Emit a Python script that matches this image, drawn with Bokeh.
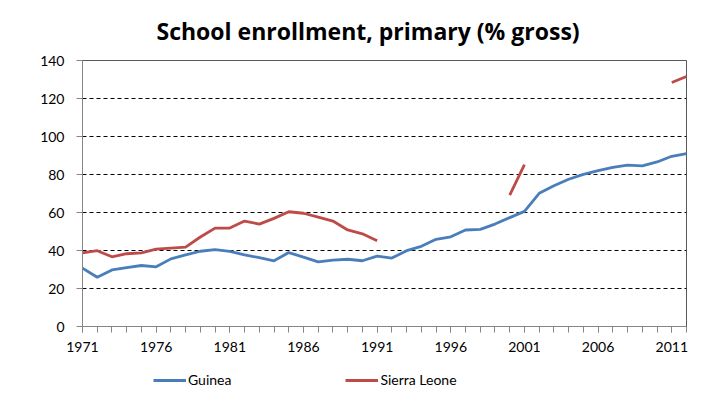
from bokeh.plotting import figure
from bokeh.layouts import column
from bokeh.models import FixedTicker, Legend, LegendItem, Range1d, Title
from bokeh.embed import file_html
from bokeh.resources import INLINE
import numpy as np

years = list(range(1971, 2013))
guinea = [30.7, 25.9, 29.8, 31.0, 32.1, 31.4, 35.6, 37.7, 39.6, 40.5,
          39.5, 37.7, 36.2, 34.6, 38.9, 36.5, 34.0, 34.9, 35.4, 34.6,
          37.0, 36.0, 39.9, 42.2, 45.9, 47.2, 50.8, 51.1, 53.9, 57.3,
          60.6, 70.1, 74.1, 77.5, 80.1, 82.0, 83.8, 84.9, 84.5, 86.6,
          89.6, 91.0]
sierra_leone = [38.8, 39.9, 36.7, 38.3, 38.8, 40.7, 41.3, 41.8, 47.1, 51.8,
                51.8, 55.5, 53.9, 56.9, 60.4, 59.6, 57.6, 55.5, 50.8, 48.8,
                45.1, None, None, None, None, None, None, None, None, 69.1,
                85.2, None, None, None, None, None, None, None, None, None,
                128.4, 131.6]
series_names = ["Guinea", "Sierra Leone"]
series_colors = ["#4A7EBB", "#BE4B48"]
x_labels = [1971, 1976, 1981, 1986, 1991, 1996, 2001, 2006, 2011]
y_ticks = [0, 20, 40, 60, 80, 100, 120, 140]

FONT = "Lato"

p = figure(width=698, height=360, output_backend="svg", toolbar_location=None,
           x_range=Range1d(1971, 2012), y_range=Range1d(0, 140),
           min_border_left=82, min_border_right=12, min_border_top=60,
           min_border_bottom=34)

p.title = Title(text="School enrollment, primary (% gross)", align="left",
                vertical_align="middle",
                text_font="Open Sans", text_font_size="23px", text_font_style="bold",
                text_color="#000000", offset=74, standoff=26)

sl = np.array([np.nan if v is None else v for v in sierra_leone], dtype=float)

p.line(years, guinea, line_color=series_colors[0], line_width=2.8)
p.line(years, sl, line_color=series_colors[1], line_width=2.8)

p.xaxis.ticker = FixedTicker(ticks=x_labels, minor_ticks=years)
p.yaxis.ticker = FixedTicker(ticks=y_ticks)

for ax in (p.xaxis, p.yaxis):
    ax.axis_line_color = "#868686"
    ax.major_tick_line_color = "#868686"
    ax.minor_tick_line_color = "#868686"
    ax.major_tick_out = 6
    ax.major_tick_in = 0
    ax.minor_tick_out = 6
    ax.minor_tick_in = 0
    ax.major_label_text_font = FONT
    ax.major_label_text_font_size = "14px"
    ax.major_label_text_color = "#000000"
p.yaxis.minor_tick_line_color = None
p.yaxis.major_label_standoff = 12
p.xaxis.major_label_standoff = 9

p.xgrid.grid_line_color = None
p.ygrid.grid_line_color = "#000000"
p.ygrid.grid_line_dash = "4 3"
p.ygrid.grid_line_width = 1

p.outline_line_color = "#595959"
p.outline_line_width = 1

# legend strip below the chart (same frame alignment as the chart)
lg = figure(width=698, height=34, output_backend="svg", toolbar_location=None,
            x_axis_type=None, y_axis_type=None,
            x_range=Range1d(0, 1), y_range=Range1d(0, 1),
            min_border_left=82, min_border_right=12, min_border_top=0,
            min_border_bottom=0)
lg.outline_line_color = None
lg.grid.grid_line_color = None
items = []
for name, color in zip(series_names, series_colors):
    r = lg.line([np.nan], [np.nan], line_color=color, line_width=2.8)
    items.append(LegendItem(label=name, renderers=[r]))
legend = Legend(items=items, orientation="horizontal", location=(71, 6),
                glyph_width=33, glyph_height=16, label_height=16,
                label_standoff=2, spacing=114, padding=0, margin=0,
                border_line_color=None, background_fill_alpha=0,
                label_text_font=FONT, label_text_font_size="14px",
                label_text_color="#000000")
lg.add_layout(legend, "center")

layout = column(p, lg, spacing=0)
open("out.html", "w").write(file_html(layout, INLINE))
